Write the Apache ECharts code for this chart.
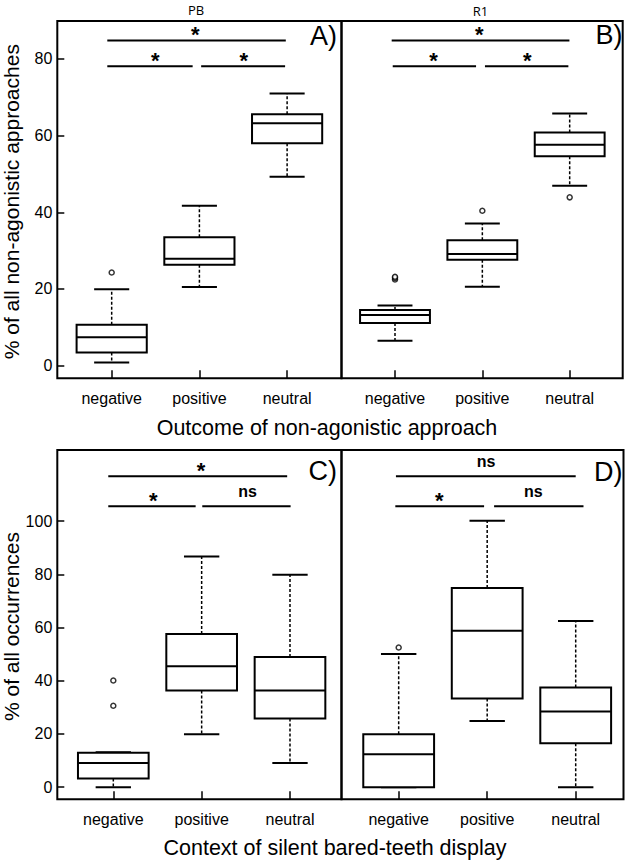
<!DOCTYPE html>
<html><head><meta charset="utf-8">
<script src="https://cdn.jsdelivr.net/npm/echarts@6/dist/echarts.min.js"></script>
<style>html,body{margin:0;padding:0;background:#fff}#c{width:628px;height:861px}</style>
</head><body><div id="c"></div>
<script>
// ---- data ----
const categories = ['negative', 'positive', 'neutral'];
const ticksTop = [0, 20, 40, 60, 80];
const ticksBottom = [0, 20, 40, 60, 80, 100];
// [lower whisker, Q1, median, Q3, upper whisker]
const boxA = [[0.8, 3.4, 7.4, 10.7, 19.9], [20.5, 26.3, 27.9, 33.5, 41.7], [49.3, 58.0, 63.2, 65.6, 71.0]];
const boxB = [[6.5, 11.1, 13.2, 14.5, 15.7], [20.6, 27.6, 29.1, 32.7, 37.1], [46.9, 54.6, 57.6, 60.8, 65.8]];
const boxC = [[0, 3.3, 9.1, 12.9, 13.1], [19.9, 36.3, 45.4, 57.6, 86.7], [9.1, 25.8, 36.3, 48.9, 79.8]];
const boxD = [[0, 0, 12.4, 19.9, 50.0], [24.9, 33.3, 58.8, 74.8, 100.1], [0, 16.5, 28.4, 37.5, 62.4]];
// outliers [category position, value]
const outA = [[1, 24.3]];
const outB = [[1, 22.5], [1, 22.9], [1, 23.2], [2, 40.4], [3, 43.9]];
const outC = [[1, 30.6], [1, 40.1]];
const outD = [[1, 52.5]];
// significance bars [x from, x to, level, label x]
const sigA = [[0.95, 2.985, 84.8, 1.954], [0.95, 1.923, 78.1, 1.496], [2.02, 2.977, 78.1, 2.507]];
const sigB = [[0.962, 2.997, 84.8, 1.966], [0.974, 1.928, 78.1, 1.44], [2.03, 2.985, 78.1, 2.515]];
const sigC = [[0.943, 2.968, 116.8, 1.992], [0.943, 1.932, 105.6, 1.452], [2.007, 3.007, 105.6, 2.52]];
const sigD = [[0.969, 3.0, 116.8, 1.988], [0.962, 1.965, 105.6, 1.46], [2.078, 3.088, 105.6, 2.52]];
const sigLabelsA = ['*', '*', '*'];
const sigLabelsB = ['*', '*', '*'];
const sigLabelsC = ['*', '*', 'ns'];
const sigLabelsD = ['ns', '*', 'ns'];

// ---- chart ----
const FONT = '"Liberation Sans", Arial, Helvetica, sans-serif';
const chart = echarts.init(document.getElementById('c'), null, {renderer: 'svg'});

const panels = [
  {grid: {left: 57.3, top: 21, width: 284.2, height: 357.3}, x: [0.38, 3.62], y: [-3.3, 89.9], ticks: ticksTop, box: boxA, out: outA, sig: sigA, sl: sigLabelsA},
  {grid: {left: 341.5, top: 21, width: 281.2, height: 357.3}, x: [0.3875, 3.607], y: [-3.3, 89.9], ticks: null, box: boxB, out: outB, sig: sigB, sl: sigLabelsB},
  {grid: {left: 57.3, top: 450, width: 284.2, height: 349.3}, x: [0.366, 3.583], y: [-4.55, 126.7], ticks: ticksBottom, box: boxC, out: outC, sig: sigC, sl: sigLabelsC},
  {grid: {left: 341.5, top: 450, width: 282, height: 349.3}, x: [0.354, 3.54], y: [-4.55, 126.7], ticks: null, box: boxD, out: outD, sig: sigD, sl: sigLabelsD}
];

const grids = [], xAxes = [], yAxes = [], series = [];

panels.forEach((p, k) => {
  grids.push(Object.assign({show: true, borderColor: '#000', borderWidth: 2, backgroundColor: 'transparent', containLabel: false}, p.grid));
  xAxes.push({
    type: 'value', gridIndex: k, min: p.x[0], max: p.x[1],
    splitLine: {show: false},
    axisLine: {show: false, onZero: false},
    axisTick: {show: true, inside: true, length: 8, customValues: [1, 2, 3], lineStyle: {color: '#000', width: 1.5}},
    axisLabel: {show: true, customValues: [1, 2, 3], margin: 12, color: '#000', fontSize: 16, fontFamily: FONT,
      formatter: v => categories[Math.round(v) - 1] || ''}
  });
  yAxes.push({
    type: 'value', gridIndex: k, min: p.y[0], max: p.y[1],
    splitLine: {show: false},
    axisLine: {show: false, onZero: false},
    axisTick: p.ticks ? {show: true, inside: true, length: 7, customValues: p.ticks, lineStyle: {color: '#000', width: 1.5}} : {show: false},
    axisLabel: p.ticks ? {show: true, customValues: p.ticks, margin: 5, color: '#000', fontSize: 16, fontFamily: FONT} : {show: false}
  });

  // boxes
  series.push({
    type: 'custom', xAxisIndex: k, yAxisIndex: k, silent: true, z: 3,
    encode: {x: 0, y: [1, 2, 3, 4, 5]},
    data: p.box.map((b, i) => [i + 1].concat(b)),
    renderItem: function (params, api) {
      const x = api.value(0);
      const lo = api.value(1), q1 = api.value(2), md = api.value(3), q3 = api.value(4), hi = api.value(5);
      const P = (xx, yy) => api.coord([xx, yy]);
      const hw = 0.4, cw = 0.2;
      const dash = {stroke: '#000', lineWidth: 1.5, lineDash: [3, 2], fill: null};
      const solid = {stroke: '#000', lineWidth: 2, fill: null};
      const ch = [];
      const line = (a, b, st) => ({type: 'line', shape: {x1: a[0], y1: a[1], x2: b[0], y2: b[1]}, style: st});
      if (lo < q1) ch.push(line(P(x, q1), P(x, lo), dash));
      if (hi > q3) ch.push(line(P(x, q3), P(x, hi), dash));
      ch.push(line(P(x - cw, lo), P(x + cw, lo), solid));
      ch.push(line(P(x - cw, hi), P(x + cw, hi), solid));
      const tl = P(x - hw, q3), br = P(x + hw, q1);
      ch.push({type: 'rect', shape: {x: tl[0], y: tl[1], width: br[0] - tl[0], height: br[1] - tl[1]},
        style: {fill: '#fff', stroke: '#000', lineWidth: 2}});
      ch.push(line(P(x - hw, md), P(x + hw, md), solid));
      return {type: 'group', children: ch};
    }
  });

  // outliers
  series.push({
    type: 'scatter', xAxisIndex: k, yAxisIndex: k, silent: true, z: 4,
    data: p.out, symbol: 'circle', symbolSize: 5,
    itemStyle: {color: '#fff', borderColor: '#000', borderWidth: 1.5}
  });

  // significance bars
  const sig = p.sig, sl = p.sl;
  series.push({
    type: 'custom', xAxisIndex: k, yAxisIndex: k, silent: true, z: 3,
    encode: {x: [0, 1], y: 2},
    data: sig.map(s => [s[0], s[1], s[2]]),
    renderItem: function (params, api) {
      const s = sig[params.dataIndex];
      const lab = sl[params.dataIndex];
      const a = api.coord([s[0], s[2]]), b = api.coord([s[1], s[2]]);
      const t = api.coord([s[3], s[2]]);
      const isStar = lab === '*';
      return {type: 'group', children: [
        {type: 'line', shape: {x1: a[0], y1: a[1], x2: b[0], y2: b[1]}, style: {stroke: '#000', lineWidth: 2}},
        {type: 'text', x: t[0], y: t[1] - (isStar ? 6 : 15),
          style: {text: lab, fill: '#000', font: 'bold ' + (isStar ? 22 : 16) + 'px ' + FONT,
            align: 'center', verticalAlign: 'middle', textAlign: 'center', textVerticalAlign: 'middle'}}
      ]};
    }
  });
});

function txt(text, x, y, size, opts) {
  opts = opts || {};
  return {
    type: 'text', x: x, y: y, rotation: opts.rot || 0, silent: true,
    style: {text: text, fill: '#000', font: (opts.weight || 'normal') + ' ' + size + 'px ' + (opts.family || FONT),
      align: opts.align || 'center', verticalAlign: 'middle',
      textAlign: opts.align || 'center', textVerticalAlign: 'middle'}
  };
}

const graphics = [
  txt('PB', 196, 9.5, 13, {family: '"Open Sans", "Noto Sans", sans-serif'}),
  txt('R1', 480.5, 10.5, 13, {family: '"Open Sans", "Noto Sans", sans-serif'}),
  txt('A)', 337, 35.5, 27, {align: 'right'}),
  txt('B)', 622.5, 34.5, 27, {align: 'right'}),
  txt('C)', 337, 471, 27, {align: 'right'}),
  txt('D)', 622.5, 472, 27, {align: 'right'}),
  txt('Outcome of non-agonistic approach', 327, 427.5, 21.5),
  txt('Context of silent bared-teeth display', 335, 848, 21.5),
  txt('% of all non-agonistic approaches', 11.5, 201.7, 21, {rot: Math.PI / 2}),
  txt('% of all occurrences', 11.5, 626.5, 21, {rot: Math.PI / 2})
];

chart.setOption({
  animation: false,
  backgroundColor: '#fff',
  grid: grids,
  xAxis: xAxes,
  yAxis: yAxes,
  series: series,
  graphic: {elements: graphics}
});
</script>
</body></html>
